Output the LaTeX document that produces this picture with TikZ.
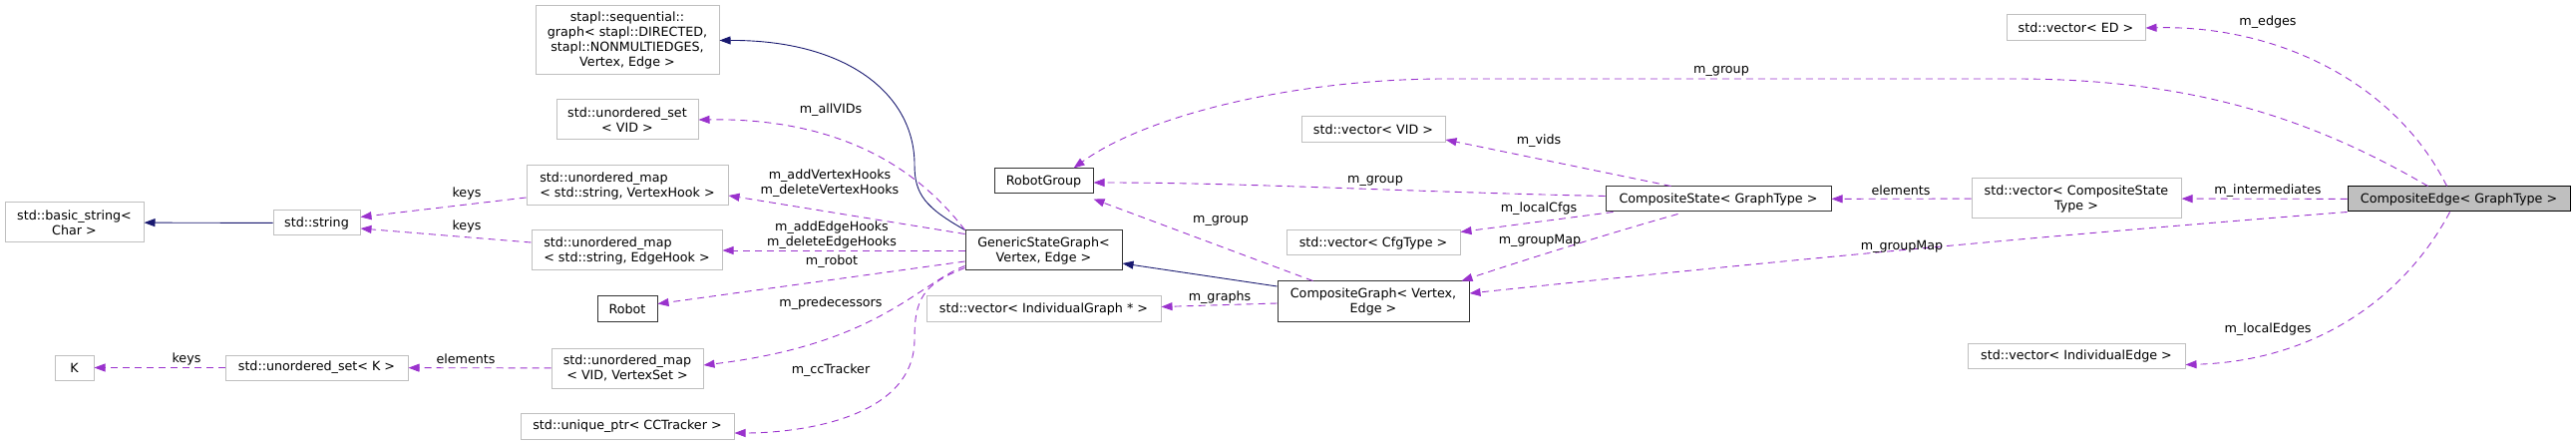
\documentclass[tikz,border=0pt]{standalone}
\usepackage{fontspec}
\setmainfont{DejaVu Sans}
\usepackage{tikz}
\usetikzlibrary{arrows.meta,calc}
\usepackage{xcolor}
\definecolor{grey75}{HTML}{BFBFBF}
\definecolor{orchid}{HTML}{9A32CD}
\definecolor{navyline}{HTML}{191970}
\tikzset{
  every node/.style={font=\fontsize{12.7}{15}\selectfont},
  cls/.style={draw=grey75, line width=1pt, fill=white, inner sep=0pt, align=center},
  doc/.style={cls, draw=black!80},
  uses/.style={draw=orchid, line width=0.9pt, dash pattern=on 7pt off 5pt,
    -{Triangle[length=11pt,width=8pt,fill=orchid]}},
  inherits/.style={draw=navyline, line width=0.9pt, -{Triangle[length=11pt,width=8pt]}},
  lbl/.style={inner sep=0pt, align=center}
}

\begin{document}
\begin{tikzpicture}[x=1pt, y=-1pt]
    \useasboundingbox (0,0) rectangle (2583,446);

    % classes
    \node[cls, minimum width=139pt, minimum height=40pt] (bstr) at (74.5,223) {std::basic\_string<\\Char >};
    \node[cls, minimum width=87pt, minimum height=25pt] (str) at (317.5,223.5) {std::string};
    \node[cls, minimum width=39pt, minimum height=25pt] (kk) at (74.5,368.5) {K};
    \node[cls, minimum width=183pt, minimum height=25pt] (usetk) at (317.5,368.5) {std::unordered\_set< K >};
    \node[cls, minimum width=184pt, minimum height=69pt] (stapl) at (629,40.5) {stapl::sequential::\\graph< stapl::DIRECTED,\\ stapl::NONMULTIEDGES,\\Vertex, Edge >};
    \node[cls, minimum width=142pt, minimum height=40pt] (usetvid) at (629,120) {std::unordered\_set\\< VID >};
    \node[cls, minimum width=202pt, minimum height=40pt, align=left] (umapvh) at (629,186) {std::unordered\_map\\< std::string, VertexHook >};
    \node[cls, minimum width=191pt, minimum height=40pt, align=left] (umapeh) at (628.5,251) {std::unordered\_map\\< std::string, EdgeHook >};
    \node[doc, minimum width=60pt, minimum height=25pt] (robot) at (629,309.5) {Robot};
    \node[cls, minimum width=152pt, minimum height=40pt] (umapvvs) at (629,369) {std::unordered\_map\\< VID, VertexSet >};
    \node[cls, minimum width=214pt, minimum height=26pt] (uptr) at (629,427) {std::unique\_ptr< CCTracker >};
    \node[doc, minimum width=157pt, minimum height=40pt] (gsg) at (1046.5,251) {GenericStateGraph<\\Vertex, Edge >};
    \node[doc, minimum width=99pt, minimum height=25pt] (rgroup) at (1046.5,181.5) {RobotGroup};
    \node[cls, minimum width=235pt, minimum height=25pt] (vigraph) at (1046.5,309.5) {std::vector< IndividualGraph * >};
    \node[cls, minimum width=144pt, minimum height=26pt] (vvid) at (1377,130) {std::vector< VID >};
    \node[cls, minimum width=174pt, minimum height=25pt] (vcfg) at (1377,243.5) {std::vector< CfgType >};
    \node[doc, minimum width=192pt, minimum height=40pt] (cgraph) at (1377,302) {CompositeGraph< Vertex,\\Edge >};
    \node[doc, minimum width=226pt, minimum height=25pt] (cstate) at (1723,199.5) {CompositeState< GraphType >};
    \node[cls, minimum width=210pt, minimum height=40pt] (vcst) at (2082,199) {std::vector< CompositeState\\Type >};
    \node[cls, minimum width=139pt, minimum height=26pt] (ved) at (2081.5,28) {std::vector< ED >};
    \node[cls, minimum width=218pt, minimum height=25pt] (vie) at (2082,356.5) {std::vector< IndividualEdge >};
    \node[doc, draw=black, fill=grey75, minimum width=223pt, minimum height=25pt] (cedge) at (2465.5,199.5) {CompositeEdge< GraphType >};

    % inheritance
    \draw[inherits] (str) -- (bstr);
    \draw[inherits] (gsg.north west) .. controls (928,208) and (917,195) .. (917,165)
        .. controls (917,95) and (850,40) .. (stapl.east);
    \draw[inherits] ($(cgraph.west)+(0,-15)$) -- ($(gsg.east)+(0,13)$);

    % members
    \draw[uses] ($(umapvh.west)+(0,12)$) -- ($(str.east)+(0,-6)$) node[lbl] at (468,194) {keys};
    \draw[uses] ($(umapeh.west)+(0,-8)$) -- ($(str.east)+(0,5.5)$) node[lbl] at (468,227) {keys};
    \draw[uses] (usetk) -- (kk) node[lbl] at (187,360) {keys};
    \draw[uses] (umapvvs) -- (usetk) node[lbl] at (467,360) {elements};

    \draw[uses] (gsg.north west) .. controls (925,175) and (850,118) .. (usetvid.east)
        node[lbl] at (833,110) {m\_allVIDs};
    \draw[uses] ($(gsg.north west)+(0,4)$) -- ($(umapvh.east)+(0,10)$)
        node[lbl] at (832,184) {m\_addVertexHooks\\m\_deleteVertexHooks};
    \draw[uses] (gsg.west) -- (umapeh.east)
        node[lbl] at (834,236) {m\_addEdgeHooks\\m\_deleteEdgeHooks};
    \draw[uses] ($(gsg.west)+(0,11)$) -- ($(robot.east)+(0,-5)$) node[lbl] at (834,262) {m\_robot};
    \draw[uses] ($(gsg.south west)+(0,-5)$) .. controls (920,285) and (880,345) .. ($(umapvvs.east)+(0,-3)$)
        node[lbl] at (833,304) {m\_predecessors};
    \draw[uses] ($(gsg.south west)+(0,-3)$) .. controls (925,285) and (917,300) .. (917,340)
        .. controls (917,420) and (800,434) .. ($(uptr.east)+(0,7)$) node[lbl] at (833,371) {m\_ccTracker};

    \draw[uses] ($(cgraph.west)+(0,2)$) -- ($(vigraph.east)+(0,-2)$) node[lbl] at (1223,298) {m\_graphs};
    \draw[uses] ($(cgraph.north west)+(36,0)$) -- ($(rgroup.south east)+(0,5)$) node[lbl] at (1224,221) {m\_group};

    \draw[uses] ($(cstate.west)+(0,-3)$) .. controls (1400,192) and (1250,183) .. ($(rgroup.east)+(0,1.5)$)
        node[lbl] at (1379,181) {m\_group};
    \draw[uses] ($(cstate.north west)+(66,0)$) -- ($(vvid.east)+(0,10)$) node[lbl] at (1543,141) {m\_vids};
    \draw[uses] ($(cstate.south west)+(8,0)$) -- ($(vcfg.east)+(0,-11)$) node[lbl] at (1543,209) {m\_localCfgs};
    \draw[uses] ($(cstate.south west)+(73,2)$) .. controls (1620,232) and (1530,260) .. ($(cgraph.north east)+(-8,0)$)
        node[lbl] at (1544,241) {m\_groupMap};
    \draw[uses] (vcst) -- (cstate) node[lbl] at (1906,191) {elements};

    \draw[uses] (cedge) -- (vcst) node[lbl] at (2274,191) {m\_intermediates};
    \draw[uses] ($(cedge.north)+(-12,0)$) .. controls (2400,80) and (2280,25) .. (ved.east)
        node[lbl] at (2274,22) {m\_edges};
    \draw[uses] ($(cedge.north)+(-31,0)$) .. controls (2320,120) and (2200,79) .. (2020,79) -- (1450,79)
        .. controls (1300,79) and (1150,115) .. ($(rgroup.north)+(30,0)$) node[lbl] at (1726,71) {m\_group};
    \draw[uses] (cedge.south west) .. controls (2000,240) and (1700,270) .. ($(cgraph.east)+(0,-8)$)
        node[lbl] at (1907,247) {m\_groupMap};
    \draw[uses] ($(cedge.south)+(-9,0)$) .. controls (2410,300) and (2320,362) .. ($(vie.east)+(0,9)$)
        node[lbl] at (2274,330) {m\_localEdges};
\end{tikzpicture}
\end{document}
